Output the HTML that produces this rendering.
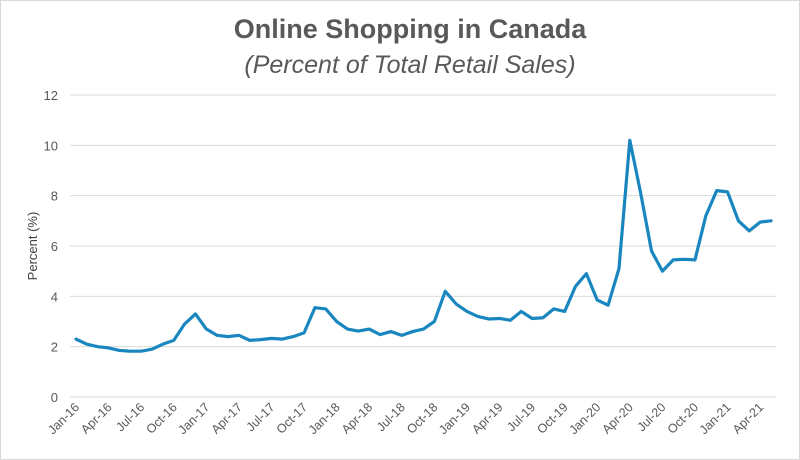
<!DOCTYPE html>
<html><head><meta charset="utf-8"><style>
html,body{margin:0;padding:0;background:#fff;}
svg{display:block;font-family:"Liberation Sans",sans-serif;}
</style></head><body>
<svg width="800" height="460" viewBox="0 0 800 460">
<rect x="0.5" y="0.5" width="799" height="459" fill="#fff" stroke="#d9d9d9"/>
<text x="410" y="38" text-anchor="middle" font-size="27" font-weight="bold" fill="#595959">Online Shopping in Canada</text>
<text x="410" y="73" text-anchor="middle" font-size="25" font-style="italic" fill="#595959">(Percent of Total Retail Sales)</text>
<text transform="translate(37,246) rotate(-90)" text-anchor="middle" font-size="13" fill="#404040">Percent (%)</text>
<g id="grid"></g><g id="yt"></g><g id="xt"></g><g id="plot"></g>
</svg>
<script>
const months = ["Jan-16","Feb-16","Mar-16","Apr-16","May-16","Jun-16","Jul-16","Aug-16","Sep-16","Oct-16","Nov-16","Dec-16","Jan-17","Feb-17","Mar-17","Apr-17","May-17","Jun-17","Jul-17","Aug-17","Sep-17","Oct-17","Nov-17","Dec-17","Jan-18","Feb-18","Mar-18","Apr-18","May-18","Jun-18","Jul-18","Aug-18","Sep-18","Oct-18","Nov-18","Dec-18","Jan-19","Feb-19","Mar-19","Apr-19","May-19","Jun-19","Jul-19","Aug-19","Sep-19","Oct-19","Nov-19","Dec-19","Jan-20","Feb-20","Mar-20","Apr-20","May-20","Jun-20","Jul-20","Aug-20","Sep-20","Oct-20","Nov-20","Dec-20","Jan-21","Feb-21","Mar-21","Apr-21","May-21"];
const values = [2.3,2.1,2.0,1.95,1.85,1.82,1.82,1.9,2.1,2.25,2.9,3.3,2.7,2.45,2.4,2.45,2.25,2.28,2.33,2.3,2.4,2.55,3.55,3.5,3.0,2.7,2.62,2.7,2.48,2.6,2.45,2.6,2.7,3.0,4.2,3.7,3.4,3.2,3.1,3.12,3.05,3.4,3.12,3.15,3.5,3.4,4.4,4.9,3.85,3.65,5.1,10.2,8.1,5.8,5.0,5.45,5.47,5.45,7.2,8.2,8.15,7.0,6.6,6.95,7.0];
const yTicks = [0,2,4,6,8,10,12];
const NS="http://www.w3.org/2000/svg";
const x0=76,x1=771,y0=397,y1=95,gx0=70,gx1=776;
const xs=i=>x0+(x1-x0)*i/(months.length-1);
const ys=v=>y0-(y0-y1)*v/12;
function mk(t,a,p){const e=document.createElementNS(NS,t);for(const k in a)e.setAttribute(k,a[k]);p.appendChild(e);return e;}
const grid=document.getElementById('grid'),yt=document.getElementById('yt'),xt=document.getElementById('xt'),plot=document.getElementById('plot');
yTicks.forEach(v=>{
  const l=mk('line',{x1:gx0,x2:gx1,y1:ys(v),y2:ys(v),stroke:'#d9d9d9','stroke-width':1},grid);
  
  
  const t=mk('text',{x:58,y:ys(v)+5,'text-anchor':'end','font-size':13,fill:'#595959'},yt);
  t.textContent=v;
  
  
});
months.forEach((m,i)=>{
  if(i%3!==0)return;
  const x=xs(i)+4,y=408;
  const t=mk('text',{x:x,y:y,'text-anchor':'end','font-size':12.5,fill:'#595959',transform:`rotate(-45 ${x} ${y})`},xt);
  t.textContent=m;
  
  
});
const p=mk('polyline',{points:values.map((v,i)=>xs(i)+','+ys(v)).join(' '),fill:'none',stroke:'#1a86c0','stroke-width':3.2,'stroke-linejoin':'round','stroke-linecap':'round'},plot);


</script>
</body></html>
